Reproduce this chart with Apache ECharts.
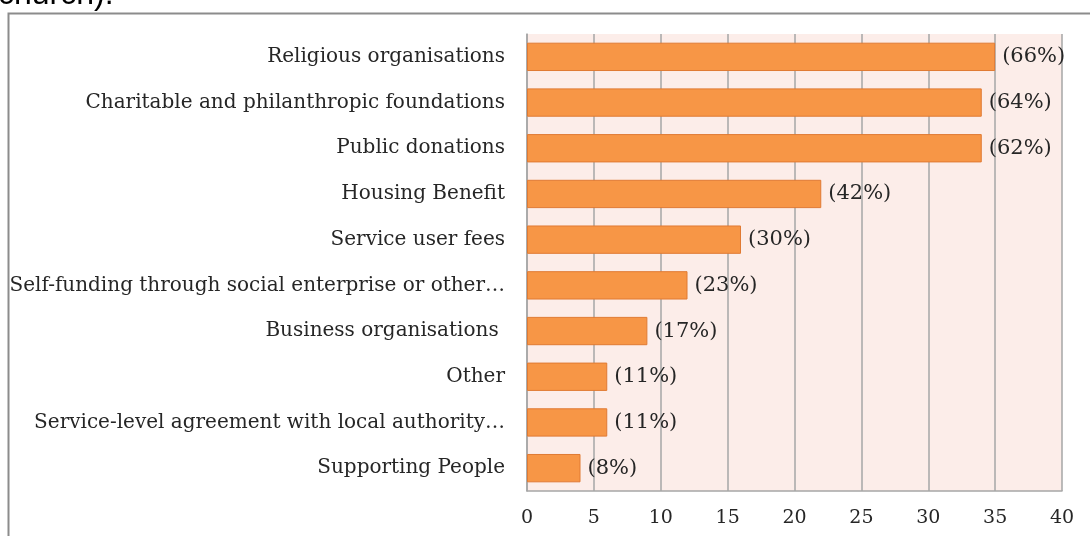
<!DOCTYPE html>
<html>
<head>
<meta charset="utf-8">
<script src="https://cdn.jsdelivr.net/npm/echarts@6/dist/echarts.min.js"></script>
<style>
  html, body { margin: 0; padding: 0; background: #ffffff; }
  #chart { width: 1090px; height: 536px; }
</style>
</head>
<body>
<div id="chart"></div>
<script>
// Funding sources, listed top to bottom
const categories = [
  'Religious organisations',
  'Charitable and philanthropic foundations',
  'Public donations',
  'Housing Benefit',
  'Service user fees',
  'Self-funding through social enterprise or other…',
  'Business organisations ',
  'Other',
  'Service-level agreement with local authority…',
  'Supporting People'
];
// Number of respondents per source
const counts = [35, 34, 34, 22, 16, 12, 9, 6, 6, 4];
// Share of respondents per source
const shares = ['66%', '64%', '62%', '42%', '30%', '23%', '17%', '11%', '11%', '8%'];
const xTicks = { min: 0, max: 40, interval: 5 };

const serif = 'DejaVu Serif';
const chart = echarts.init(document.getElementById('chart'));

chart.setOption({
  animation: false,
  backgroundColor: '#ffffff',
  graphic: [
    {
      type: 'rect',
      left: 6, top: 11,
      shape: { width: 1200, height: 600 },
      style: { fill: 'none', stroke: '#8c8c8c', lineWidth: 2 },
      z: -10
    },
    {
      type: 'text',
      left: -2, top: -21,
      style: { text: 'church).', font: '32px "Liberation Sans", Arial, sans-serif', fill: '#000000' }
    }
  ],
  grid: {
    left: 527, right: 28, top: 34, bottom: 45,
    show: true, backgroundColor: '#fcede9', borderWidth: 0
  },
  xAxis: {
    type: 'value',
    min: xTicks.min, max: xTicks.max, interval: xTicks.interval,
    axisLine: { show: true, lineStyle: { color: '#a6a6a6', width: 1.5 } },
    axisTick: { show: false },
    splitLine: { show: true, lineStyle: { color: '#a6a6a6', width: 1.5 } },
    axisLabel: { fontFamily: serif, fontSize: 19, color: '#262626', margin: 18 }
  },
  yAxis: {
    type: 'category',
    inverse: true,
    data: categories,
    axisLine: { show: true, lineStyle: { color: '#a6a6a6', width: 1.5 } },
    axisTick: { show: false },
    axisLabel: { fontFamily: serif, fontSize: 20, color: '#262626', margin: 22 }
  },
  series: [{
    type: 'bar',
    data: counts,
    barCategoryGap: '38%',
    itemStyle: { color: '#f79646', borderColor: '#e07a33', borderWidth: 1 },
    label: {
      show: true,
      position: 'right',
      distance: 7,
      fontFamily: serif,
      fontSize: 21,
      color: '#262626',
      formatter: p => '(' + shares[p.dataIndex] + ')'
    }
  }]
});
</script>
</body>
</html>
